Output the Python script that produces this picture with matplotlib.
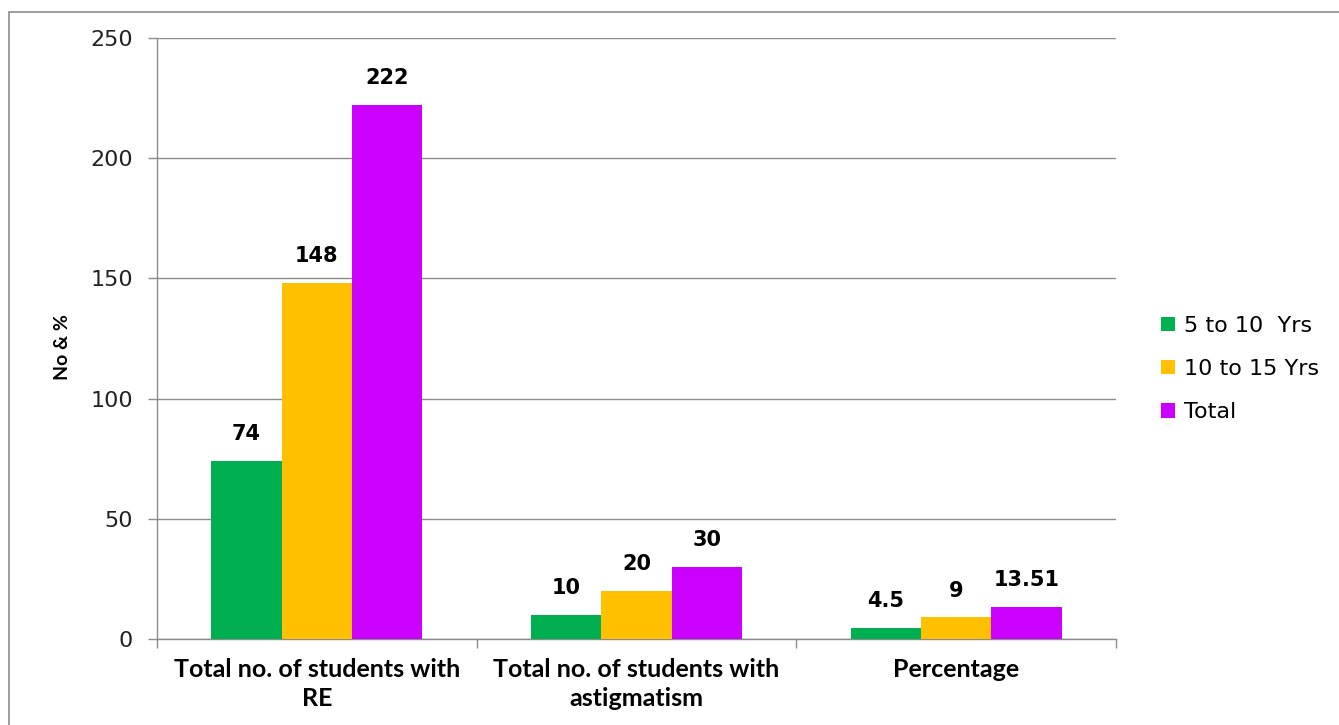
import matplotlib
matplotlib.use("Agg")
import matplotlib.pyplot as plt
import numpy as np
from matplotlib.patches import Rectangle

categories = ["Total no. of students with\nRE", "Total no. of students with\nastigmatism", "Percentage"]
series_names = ["5 to 10  Yrs", "10 to 15 Yrs", "Total"]
age_5_10 = [74, 10, 4.5]
age_10_15 = [148, 20, 9]
total = [222, 30, 13.51]
value_labels = [["74", "10", "4.5"], ["148", "20", "9"], ["222", "30", "13.51"]]
colors = ["#00B050", "#FFC000", "#CC00FF"]
yticks = [0, 50, 100, 150, 200, 250]

W, H = 1339, 725
fig = plt.figure(figsize=(W / 100, H / 100), dpi=100)

# chart frame (left and top edges visible)
fig.patches.append(Rectangle((9 / W, -0.1), 1.2, 1.1 - 12 / H, transform=fig.transFigure,
                             fill=False, edgecolor="#8c8c8c", linewidth=1.2))

ax = fig.add_axes([157 / W, 1 - 639 / H, (1116 - 157) / W, (639 - 38) / H])

x = np.arange(len(categories))
bw = 0.22
data = [age_5_10, age_10_15, total]
for i, (vals, name, col, labs) in enumerate(zip(data, series_names, colors, value_labels)):
    pos = x + (i - 1) * bw
    ax.bar(pos, vals, width=bw, color=col, label=name, zorder=3)
    for p, v, t in zip(pos, vals, labs):
        ax.text(p, v + 7, t, ha="center", va="bottom", fontsize=15,
                fontweight="bold", family="DejaVu Sans")

ax.set_xlim(-0.5, len(categories) - 0.5)
ax.set_ylim(0, 250)
ax.set_yticks(yticks)
ax.set_yticklabels([str(t) for t in yticks], fontsize=16, color="#222222")
ax.yaxis.grid(True, color="#8c8c8c", linewidth=1.0, zorder=0)
ax.set_axisbelow(True)

ax.set_xticks(np.arange(-0.5, len(categories) + 0.5, 1))
ax.set_xticklabels([])
ax.set_xticks(x, minor=True)
ax.set_xticklabels(categories, minor=True, fontsize=18, fontweight="bold",
                   family="Lato", linespacing=1.3)
ax.tick_params(axis="x", which="major", length=6.5, color="#8c8c8c", width=1)
ax.tick_params(axis="x", which="minor", length=0, pad=14)
ax.tick_params(axis="y", length=6.5, color="#8c8c8c", width=1, pad=11)

for s in ["top", "right"]:
    ax.spines[s].set_visible(False)
for s in ["left", "bottom"]:
    ax.spines[s].set_color("#8c8c8c")
    ax.spines[s].set_linewidth(1)

fig.text(63 / W, 1 - 347 / H, "No & %", rotation=90, ha="center", va="center",
         fontsize=14, fontweight="bold", family="Lato")

leg = fig.legend(loc="center left", bbox_to_anchor=(1141 / W, 1 - 369 / H), frameon=False,
                 handlelength=0.62, handleheight=0.62, handletextpad=0.4,
                 labelspacing=1.05, prop={"family": "DejaVu Sans", "size": 16})

fig.savefig("out.png", dpi=100)
